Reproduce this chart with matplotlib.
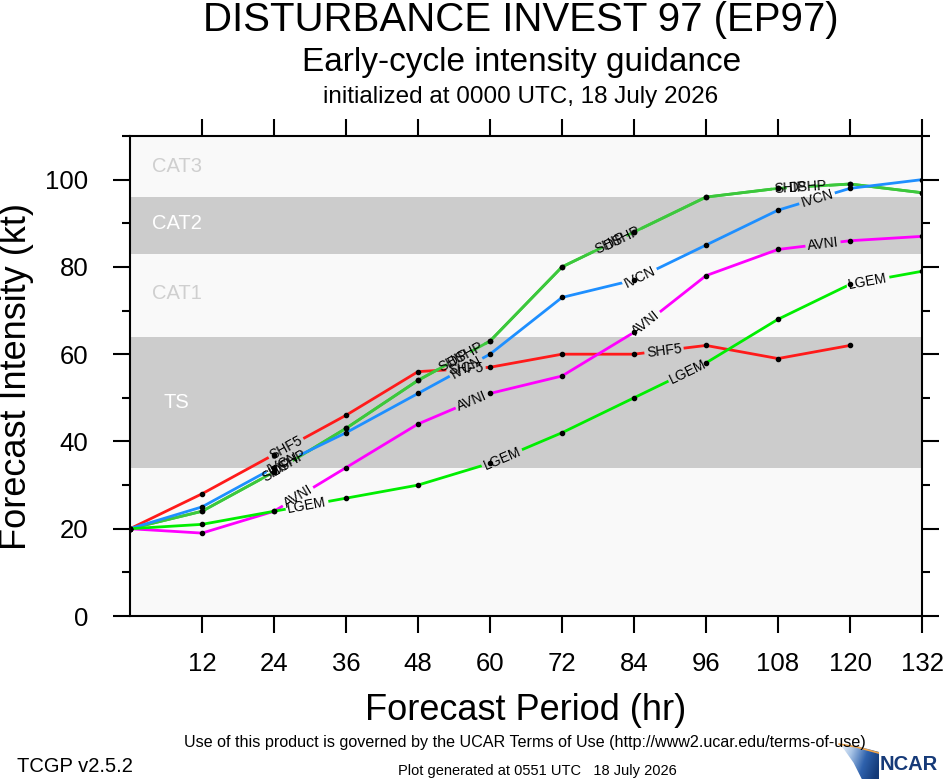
import numpy as np
import matplotlib
matplotlib.use("Agg")
import matplotlib.pyplot as plt
from matplotlib.patches import Polygon
from matplotlib.path import Path
from matplotlib.transforms import IdentityTransform
from matplotlib.colors import LinearSegmentedColormap

plt.rcParams['font.family'] = ['Liberation Sans', 'DejaVu Sans']

# forecast hours and intensities (kt)
hours = [0, 12, 24, 36, 48, 60, 72, 84, 96, 108, 120, 132]
shf5 = [20, 28, 37, 46, 56, 57, 60, 60, 62, 59, 62]
ship = [20, 24, 33, 43, 54, 63, 80, 88, 96, 98, 99, 97]
dshp = [20, 24, 33, 43, 54, 63, 80, 88, 96, 98, 99, 97]
ivcn = [20, 25, 34, 42, 51, 60, 73, 77, 85, 93, 98, 100]
avni = [20, 19, 24, 34, 44, 51, 55, 65, 78, 84, 86, 87]
lgem = [20, 21, 24, 27, 30, 35, 42, 50, 58, 68, 76, 79]

# name, values, colour, hours where the line label sits
models = [
    ("SHF5", shf5, "#ff1a1a", [26, 56, 89]),
    ("SHIP", ship, "#3cc83c", [24.5, 54, 80, 110]),
    ("DSHP", dshp, "#3cc83c", [26.5, 56, 82, 113]),
    ("IVCN", ivcn, "#1e8fff", [25.5, 56, 85, 114.5]),
    ("AVNI", avni, "#ff00ff", [28, 57, 86, 115.5]),
    ("LGEM", lgem, "#00ee00", [29.5, 62, 93, 123]),
]

# intensity bands
bands = [0, 34, 64, 83, 96, 110]
band_cols = ["#f9f9f9", "#cccccc", "#f9f9f9", "#cccccc", "#f9f9f9"]
band_names = ["TS", "CAT1", "CAT2", "CAT3"]
band_text_y = [49, 74, 90, 103]
band_text_cols = ["white", "#cfcfcf", "white", "#cfcfcf"]

W, H = 946, 780
fig = plt.figure(figsize=(W / 100, H / 100), dpi=100)
ax = fig.add_axes([130 / W, 164 / H, 792 / W, 480 / H])
ax.set_xlim(0, 132)
ax.set_ylim(0, 110)

for i in range(len(band_cols)):
    ax.axhspan(bands[i], bands[i + 1], color=band_cols[i], lw=0, zorder=0)
for name, ty, tc in zip(band_names, band_text_y, band_text_cols):
    x0 = 3.7 if name != "TS" else 5.5
    ax.text(x0, ty, name, color=tc, fontsize=14.5, va='center', ha='left', zorder=1)

renderer = fig.canvas.get_renderer()
lab_fs = 10

for name, vals, col, lab_hours in models:
    hh = hours[:len(vals)]
    line, = ax.plot(hh, vals, color=col, lw=2, zorder=3)
    ax.plot(hh, vals, 'o', color='black', ms=3, zorder=6)

    # clip path = whole figure minus a hole under each label
    verts = [(0, 0), (W, 0), (W, H), (0, H), (0, 0)]
    codes = [Path.MOVETO, Path.LINETO, Path.LINETO, Path.LINETO, Path.CLOSEPOLY]
    tmp = fig.text(0, 0, name, fontsize=lab_fs)
    bb = tmp.get_window_extent(renderer)
    tmp.remove()
    a, b = bb.width / 2 + 2, bb.height / 2
    for h in lab_hours:
        k = min(int(h // 12), len(vals) - 2)
        yv = np.interp(h, hh, vals)
        ang = np.degrees(np.arctan2(vals[k + 1] - vals[k], hh[k + 1] - hh[k]))
        ax.text(h, yv, name, fontsize=lab_fs, ha='center', va='center', rotation=ang,
                rotation_mode='anchor', transform_rotates_text=True, zorder=4)
        c = ax.transData.transform((h, yv))
        p0 = ax.transData.transform((hh[k], vals[k]))
        p1 = ax.transData.transform((hh[k + 1], vals[k + 1]))
        th = np.arctan2(p1[1] - p0[1], p1[0] - p0[0])
        u = np.array([np.cos(th), np.sin(th)])
        n = np.array([-np.sin(th), np.cos(th)])
        hole = [c - u * a + n * b, c + u * a + n * b, c + u * a - n * b,
                c - u * a - n * b, c - u * a + n * b]
        verts += [tuple(p) for p in hole]
        codes += [Path.MOVETO, Path.LINETO, Path.LINETO, Path.LINETO, Path.CLOSEPOLY]
    line.set_clip_path(Path(verts, codes), IdentityTransform())

ax.set_xticks(hours[1:])
ax.set_yticks([0, 20, 40, 60, 80, 100])
ax.set_yticks([10, 30, 50, 70, 90, 110], minor=True)
ax.tick_params(which='both', direction='out', top=True, right=True, width=1.5,
               labelsize=18.5)
ax.tick_params(which='major', length=12)
ax.tick_params(which='minor', length=6)
ax.tick_params(axis='x', pad=14)
ax.tick_params(axis='y', pad=18)
for s in ax.spines.values():
    s.set_linewidth(1.5)

ax.set_xlabel("Forecast Period (hr)", fontsize=26, labelpad=12)
ax.set_ylabel("Forecast Intensity (kt)", fontsize=26, labelpad=8)

fig.text(521 / W, 1 - 20 / H, "DISTURBANCE INVEST 97 (EP97)", fontsize=29,
         ha='center', va='center')
fig.text(522 / W, 1 - 62 / H, "Early-cycle intensity guidance", fontsize=24,
         ha='center', va='center')
fig.text(521 / W, 1 - 97 / H, "initialized at 0000 UTC, 18 July 2026", fontsize=17.5,
         ha='center', va='center')

fig.text(17 / W, 1 - 766 / H, "TCGP v2.5.2", fontsize=14.5, ha='left', va='center')
fig.text(525 / W, 1 - 742 / H,
         "Use of this product is governed by the UCAR Terms of Use (http://www2.ucar.edu/terms-of-use)",
         fontsize=11.6, ha='center', va='center')
fig.text(398 / W, 1 - 771 / H, "Plot generated at 0551 UTC   18 July 2026",
         fontsize=10.5, ha='left', va='center')

# NCAR logo
lax = fig.add_axes([838 / W, 1 / H, 41 / W, 36 / H])
lax.set_xlim(0, 1)
lax.set_ylim(0, 1)
lax.axis('off')
gx, gy = np.meshgrid(np.linspace(0, 1, 60), np.linspace(1, 0, 60))
cm = LinearSegmentedColormap.from_list("ncar", ["white", "#a8c4e6", "#2f62ad", "#143a78"])
im = lax.imshow(0.85 * gx + 0.25 * (1 - gy), extent=[0, 1, 0, 1], cmap=cm,
                vmin=0, vmax=1, aspect='auto')
wedge = Polygon([[0.0, 1.0], [0.45, 0.92], [1.0, 0.75], [1.0, 0.0], [0.58, 0.0],
                 [0.38, 0.45], [0.15, 0.82]], closed=True, fc='none', ec='none')
lax.add_patch(wedge)
im.set_clip_path(wedge)
lax.plot([0.03, 0.45, 1.0], [0.97, 0.89, 0.72], color='#f2a54a', lw=1.2)
fig.text(880 / W, 1 - 765 / H, "NCAR", fontsize=14.5, fontweight='bold',
         color='#163a78', ha='left', va='center', zorder=5)

plt.savefig("out.png", dpi=100)
